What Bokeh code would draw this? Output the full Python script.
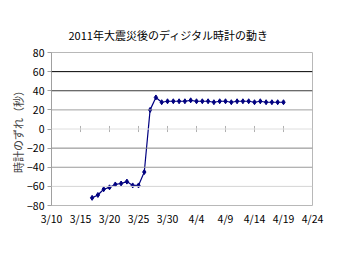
from datetime import date
from bokeh.plotting import figure
from bokeh.models import FixedTicker, Span
from bokeh.embed import file_html
from bokeh.resources import INLINE

TITLE = "2011年大震災後のディジタル時計の動き"
Y_LABEL = "時計のずれ（秒）"

dates = ["3/17", "3/18", "3/19", "3/20", "3/21", "3/22", "3/23", "3/24", "3/25",
         "3/26", "3/27", "3/28", "3/29", "3/30", "3/31", "4/1", "4/2", "4/3",
         "4/4", "4/5", "4/6", "4/7", "4/8", "4/9", "4/10", "4/11", "4/12",
         "4/13", "4/14", "4/15", "4/16", "4/17", "4/18", "4/19"]
values = [-72, -69, -63, -61, -58, -57, -55, -59, -59,
          -45, 20, 33, 28, 29, 29, 29, 29, 30,
          29, 29, 29, 28, 29, 29, 28, 29, 29,
          29, 28, 29, 28, 28, 28, 28]
x_tick_labels = ["3/10", "3/15", "3/20", "3/25", "3/30", "4/4", "4/9", "4/14", "4/19", "4/24"]
y_ticks = [-80, -60, -40, -20, 0, 20, 40, 60, 80]
grid_colors = {-60: "#d4d4d4", -40: "#9a9a9a", -20: "#858585", 0: "#dedede",
               20: "#a0a0a0", 40: "#3a3a3a", 60: "#000000"}

START = date(2011, 3, 10)


def day_offset(label):
    m, d = label.split("/")
    return (date(2011, int(m), int(d)) - START).days


xs = [day_offset(s) for s in dates]
x_ticks = [day_offset(s) for s in x_tick_labels]

FONT = "Noto Sans CJK JP"

p = figure(width=350, height=263, output_backend="svg", toolbar_location=None,
           x_range=(x_ticks[0], x_ticks[-1]), y_range=(y_ticks[0], y_ticks[-1]),
           min_border_left=51, min_border_right=38, min_border_top=52, min_border_bottom=58)

p.title.text = TITLE
p.title.align = "left"
p.title.offset = 17
p.title.text_font = FONT
p.title.text_font_size = "11px"
p.title.text_font_style = "normal"
p.title.text_color = "#000000"
p.title.standoff = 19

p.outline_line_color = "#b8b8b8"
p.xgrid.visible = False
p.ygrid.visible = False

for yv, c in grid_colors.items():
    p.add_layout(Span(location=yv, dimension="width", line_color=c, line_width=1))

# tick marks crossing the zero line
p.segment(x0=x_ticks[1:-1], y0=[-3.2] * (len(x_ticks) - 2),
          x1=x_ticks[1:-1], y1=[3.2] * (len(x_ticks) - 2),
          line_color="#b0b0b0", line_width=1)

p.line(xs, values, line_color="#000080", line_width=1.2)
p.scatter(xs, values, marker="diamond", size=5, color="#000080")

xa = p.xaxis[0]
xa.ticker = FixedTicker(ticks=x_ticks)
xa.major_label_overrides = {t: l for t, l in zip(x_ticks, x_tick_labels)}
xa.axis_line_color = None
xa.major_tick_line_color = None
xa.major_tick_out = 0
xa.major_tick_in = 0
xa.minor_tick_line_color = None
xa.minor_tick_out = 0
xa.major_label_standoff = 5
xa.major_label_text_font = FONT
xa.major_label_text_font_size = "10.5px"
xa.major_label_text_color = "#000000"

ya = p.yaxis[0]
ya.ticker = FixedTicker(ticks=y_ticks)
ya.axis_line_color = "#a0a0a0"
ya.major_tick_line_color = "#a0a0a0"
ya.major_tick_out = 4
ya.major_tick_in = 0
ya.minor_tick_line_color = None
ya.major_label_standoff = 3
ya.major_label_text_font = FONT
ya.major_label_text_font_size = "10.5px"
ya.major_label_text_color = "#000000"
ya.axis_label = Y_LABEL
ya.axis_label_text_font = FONT
ya.axis_label_text_font_size = "11px"
ya.axis_label_text_font_style = "normal"
ya.axis_label_standoff = -2

open("out.html", "w").write(file_html(p, INLINE))
